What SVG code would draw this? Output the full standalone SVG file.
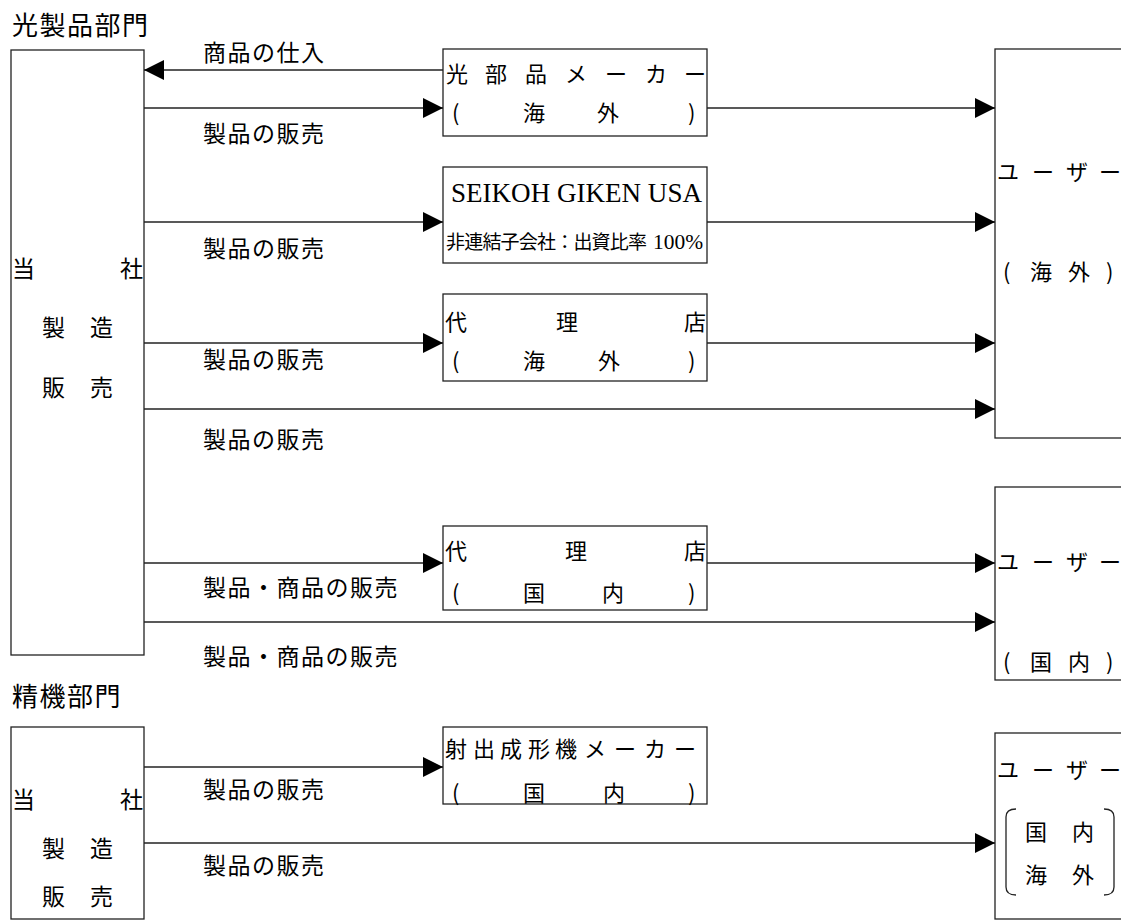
<svg xmlns="http://www.w3.org/2000/svg" width="1121" height="922" viewBox="0 0 1121 922">
<style>
.t{font-family:"Noto Sans CJK JP","Noto Sans",sans-serif;fill:#000}
.h{font-size:26px;letter-spacing:1.5px}
.l{font-size:23px;letter-spacing:1.5px}
.b{font-size:22px}
.box{fill:#fff;stroke:#222;stroke-width:1.3}
.c{stroke:#222;stroke-width:1.3;fill:none}
.serif{font-family:"Liberation Serif","Times New Roman",serif}
</style>
<defs>
<marker id="ah" viewBox="0 0 20 20" refX="20" refY="10" markerWidth="20" markerHeight="20" markerUnits="userSpaceOnUse" orient="auto"><path d="M0,0 L20,10 L0,20 z" fill="#000"/></marker>
</defs>
<rect width="1121" height="922" fill="#fff"/>
<text class="t h" x="12" y="35">光製品部門</text>
<text class="t h" x="12" y="706">精機部門</text>

<g id="company1">
<rect class="box" x="11" y="50" width="133" height="605"/>
<text class="t l" x="12" y="277">当</text>
<text class="t l" x="120" y="277">社</text>
<text class="t l" x="42 90" y="336">製造</text>
<text class="t l" x="42 90" y="396">販売</text>
</g>

<g id="maker-overseas">
<rect class="box" x="443" y="49" width="264" height="87"/>
<text class="t b" x="446 485 525 565 605 645 684" y="82">光部品メーカー</text>
<text class="t b" x="452 523 597 688" y="121">(海外)</text>
</g>

<g id="seikoh-usa">
<rect class="box" x="443" y="167" width="264" height="96"/>
<text class="serif" x="451" y="202" font-size="27" textLength="251" lengthAdjust="spacingAndGlyphs">SEIKOH GIKEN USA</text>
<text class="t" x="446" y="249" font-size="19" textLength="201" lengthAdjust="spacing">非連結子会社：出資比率</text>
<text class="serif" x="653" y="249" font-size="21" textLength="50" lengthAdjust="spacingAndGlyphs">100%</text>
</g>

<g id="agent-overseas">
<rect class="box" x="443" y="294" width="264" height="87"/>
<text class="t b" x="445 556 684" y="330">代理店</text>
<text class="t b" x="452 523 598 688" y="369">(海外)</text>
</g>

<g id="agent-domestic">
<rect class="box" x="443" y="526" width="264" height="84"/>
<text class="t b" x="445 565 684" y="559">代理店</text>
<text class="t b" x="452 523 602 688" y="601">(国内)</text>
</g>

<g id="users-overseas">
<rect class="box" x="995" y="49" width="200" height="389"/>
<text class="t b" x="997 1032 1066 1099" y="180">ユーザー</text>
<text class="t b" x="1003 1030 1068 1106" y="280">(海外)</text>
</g>

<g id="users-domestic">
<rect class="box" x="995" y="487" width="200" height="193"/>
<text class="t b" x="997 1032 1066 1099" y="570">ユーザー</text>
<text class="t b" x="1003 1030 1068 1106" y="670">(国内)</text>
</g>

<g id="company2">
<rect class="box" x="11" y="727" width="133" height="192"/>
<text class="t l" x="12" y="808">当</text>
<text class="t l" x="120" y="808">社</text>
<text class="t l" x="42 90" y="857">製造</text>
<text class="t l" x="42 90" y="905">販売</text>
</g>

<g id="molding-maker">
<rect class="box" x="443" y="727" width="264" height="77"/>
<text class="t b" x="445 473 500 528 555 584 614 644 674" y="757">射出成形機メーカー</text>
<text class="t b" x="452 523 603 688" y="801">(国内)</text>
</g>

<g id="users-both">
<rect class="box" x="995" y="733" width="200" height="186"/>
<text class="t b" x="997 1032 1066 1099" y="778">ユーザー</text>
<path class="c" d="M1016,809 Q1006,809 1006,817 L1006,887 Q1006,895 1016,895"/>
<path class="c" d="M1104,809 Q1114,809 1114,817 L1114,887 Q1114,895 1104,895"/>
<text class="t b" x="1025 1072" y="840">国内</text>
<text class="t b" x="1025 1072" y="883">海外</text>
</g>

<g id="connectors">
<line class="c" x1="443" y1="70" x2="144" y2="70" marker-end="url(#ah)"/>
<line class="c" x1="144" y1="108" x2="443" y2="108" marker-end="url(#ah)"/>
<line class="c" x1="707" y1="108" x2="995" y2="108" marker-end="url(#ah)"/>
<line class="c" x1="144" y1="222" x2="443" y2="222" marker-end="url(#ah)"/>
<line class="c" x1="707" y1="222" x2="995" y2="222" marker-end="url(#ah)"/>
<line class="c" x1="144" y1="343" x2="443" y2="343" marker-end="url(#ah)"/>
<line class="c" x1="707" y1="343" x2="995" y2="343" marker-end="url(#ah)"/>
<line class="c" x1="144" y1="409" x2="995" y2="409" marker-end="url(#ah)"/>
<line class="c" x1="144" y1="563" x2="443" y2="563" marker-end="url(#ah)"/>
<line class="c" x1="707" y1="563" x2="995" y2="563" marker-end="url(#ah)"/>
<line class="c" x1="144" y1="622" x2="995" y2="622" marker-end="url(#ah)"/>
<line class="c" x1="144" y1="767" x2="443" y2="767" marker-end="url(#ah)"/>
<line class="c" x1="144" y1="843" x2="995" y2="843" marker-end="url(#ah)"/>
<text class="t l" x="203" y="61">商品の仕入</text>
<text class="t l" x="203" y="142">製品の販売</text>
<text class="t l" x="203" y="257">製品の販売</text>
<text class="t l" x="203" y="368">製品の販売</text>
<text class="t l" x="203" y="448">製品の販売</text>
<text class="t l" x="203" y="596">製品・商品の販売</text>
<text class="t l" x="203" y="665">製品・商品の販売</text>
<text class="t l" x="203" y="798">製品の販売</text>
<text class="t l" x="203" y="874">製品の販売</text>
</g>
</svg>
